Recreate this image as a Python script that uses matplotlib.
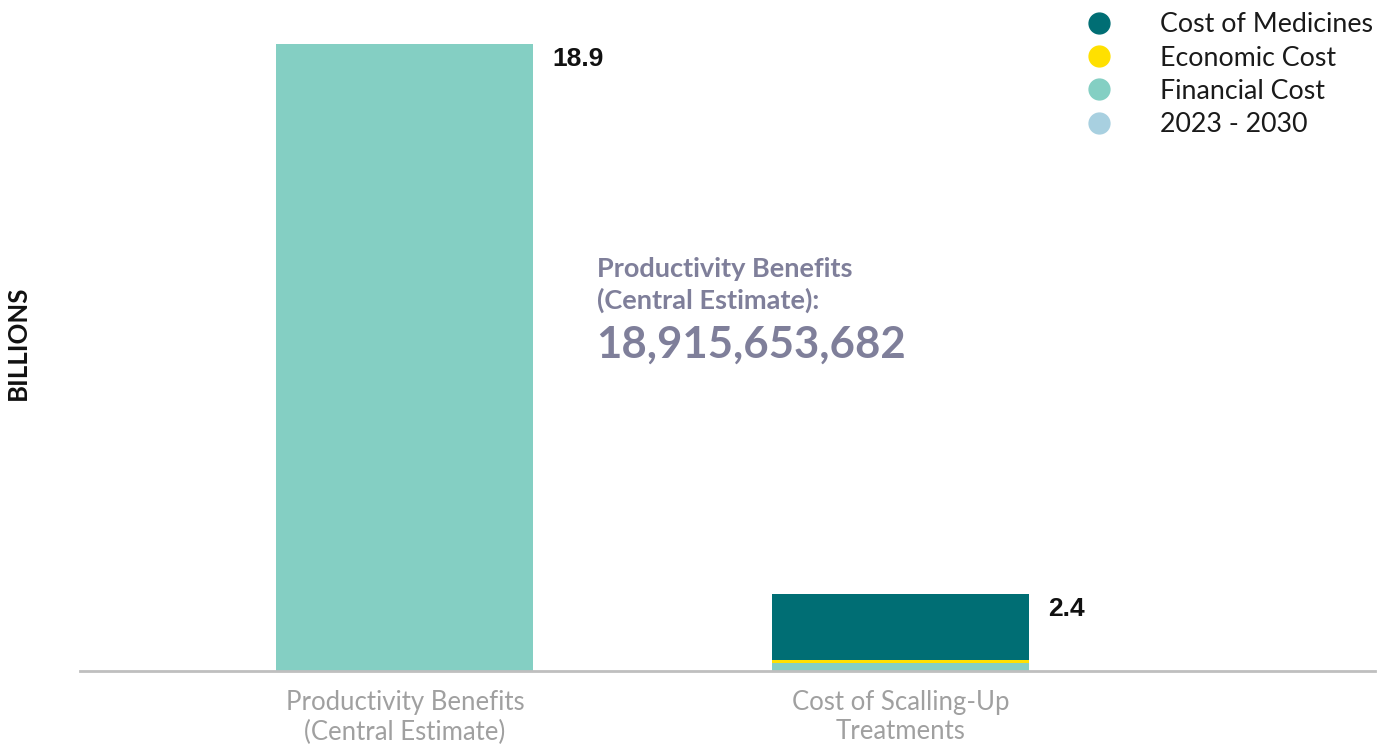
import matplotlib
matplotlib.use("Agg")
import matplotlib.pyplot as plt
from matplotlib.lines import Line2D

categories = ["Productivity Benefits\n(Central Estimate)", "Cost of Scalling-Up\nTreatments"]
series_names = ["Cost of Medicines", "Economic Cost", "Financial Cost", "2023 - 2030"]
colors = {"Cost of Medicines": "#006e74", "Economic Cost": "#ffe000",
          "Financial Cost": "#84cfc3", "2023 - 2030": "#a8d0e0"}
# stacked values (billions), bottom to top
period_2023_2030 = [0.0, 0.0]
financial_cost = [18.9, 0.24]
economic_cost = [0.0, 0.09]
cost_of_medicines = [0.0, 2.0]
totals_labels = ["18.9", "2.4"]
annotation_title = ["Productivity Benefits", "(Central Estimate):"]
annotation_value = "18,915,653,682"

fig = plt.figure(figsize=(13.85, 7.45), dpi=100)
ax = fig.add_axes([80/1385, 74/745, (1375-80)/1385, 671/745])

x = [0, 1]
w = 0.518
ax.bar(x, period_2023_2030, width=w, color=colors["2023 - 2030"])
bottom = list(period_2023_2030)
ax.bar(x, financial_cost, width=w, bottom=bottom, color=colors["Financial Cost"])
bottom = [a + b for a, b in zip(bottom, financial_cost)]
ax.bar(x, economic_cost, width=w, bottom=bottom, color=colors["Economic Cost"])
bottom = [a + b for a, b in zip(bottom, economic_cost)]
ax.bar(x, cost_of_medicines, width=w, bottom=bottom, color=colors["Cost of Medicines"])
tops = [a + b for a, b in zip(bottom, cost_of_medicines)]

for xi, t, lab in zip(x, tops, totals_labels):
    ax.text(xi + w/2 + 0.038, t - 0.1, lab, ha="left", va="top",
            fontsize=19, fontweight="bold", family="Liberation Sans", color="#111111")

ax.set_xlim(-0.655, 1.956)
ax.set_ylim(0, 20.23)
for s in ["top", "right", "left"]:
    ax.spines[s].set_visible(False)
ax.spines["bottom"].set_color("#bfbfbf")
ax.spines["bottom"].set_linewidth(2)
ax.set_yticks([])
ax.set_xticks(x)
ax.set_xticklabels(categories, fontsize=18.5, color="#a0a0a0", family="Lato",
                   linespacing=1.2)
ax.tick_params(axis="x", length=0, pad=14)

fig.text(18/1385, 1 - 343/745, "BILLIONS", rotation=90, ha="center", va="center",
         fontsize=18.5, fontweight="bold", family="Lato", color="#111111")

ann_color = "#7f7f9a"
fig.text(597/1385, 1 - 269/745, annotation_title[0],
         ha="left", va="center", fontsize=19.5, fontweight="bold", family="Lato",
         color=ann_color)
fig.text(597/1385, 1 - 300/745, annotation_title[1],
         ha="left", va="center", fontsize=19.5, fontweight="bold", family="Lato",
         color=ann_color)
fig.text(596/1385, 1 - 345/745, annotation_value,
         ha="left", va="center", fontsize=31.5, fontweight="bold", family="Lato",
         color=ann_color)

handles = [Line2D([0], [0], marker="o", linestyle="none", markersize=15,
                  markerfacecolor=colors[n], markeredgecolor=colors[n]) for n in series_names]
leg = fig.legend(handles, series_names, loc="upper right", bbox_to_anchor=(1384/1385, 0.998),
                 frameon=False, prop={"family": "Lato", "size": 19.3},
                 handlelength=2.0, handletextpad=1.28, labelspacing=0.31,
                 borderaxespad=0.0)
for t in leg.get_texts():
    t.set_color("#1a1a1a")

fig.savefig("out.png", dpi=100)
